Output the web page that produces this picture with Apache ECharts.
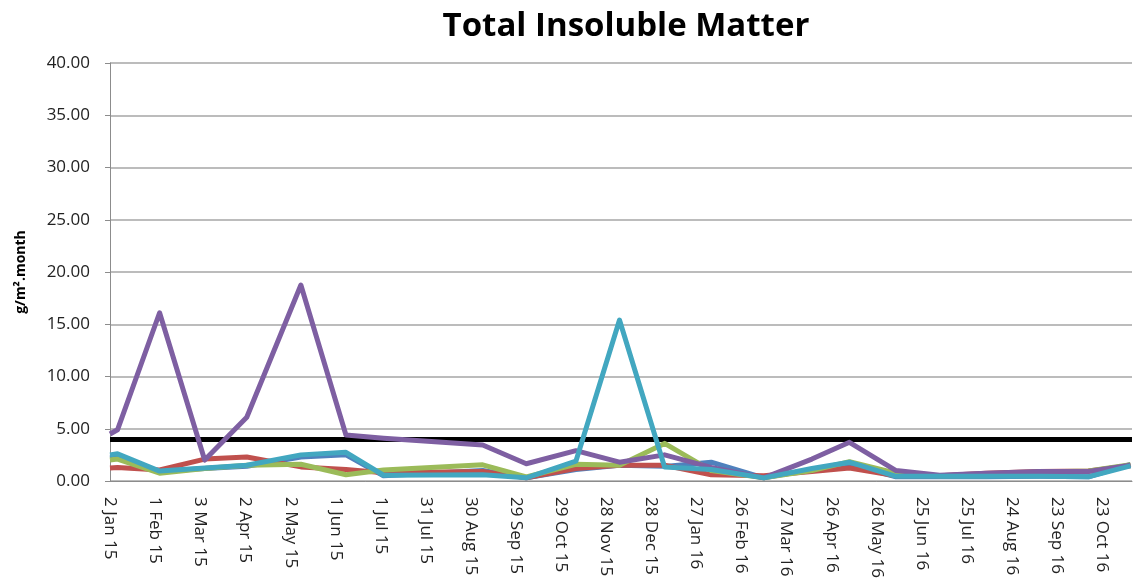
<!DOCTYPE html>
<html>
<head>
<meta charset="utf-8">
<script src="https://cdn.jsdelivr.net/npm/echarts@6/dist/echarts.min.js"></script>
<style>
html,body{margin:0;padding:0;background:#fff;}
#chart{width:1138px;height:587px;}
</style>
</head>
<body>
<div id="chart"></div>
<script>
// ---- data ----
const sampleDates = ["2015-01-02","2015-01-07","2015-02-04","2015-03-06","2015-04-03","2015-05-09","2015-06-08","2015-07-03","2015-09-07","2015-10-06","2015-11-08","2015-12-07","2016-01-06","2016-02-06","2016-03-12","2016-04-13","2016-05-08","2016-06-08","2016-07-07","2016-08-07","2016-09-11","2016-10-14","2016-11-11"];
const seriesBlue   = [2.2, 2.3, 0.9, 1.2, 1.4, 2.3, 2.5, 0.5, 1.0, 0.3, 1.1, 1.5, 1.4, 1.8, 0.3, 1.1, 1.6, 0.4, 0.4, 0.4, 0.45, 0.4, 1.6];
const seriesRed    = [1.25, 1.3, 1.05, 2.1, 2.3, 1.35, 1.1, 0.8, 0.9, 0.3, 1.2, 1.5, 1.5, 0.6, 0.5, 0.9, 1.25, 0.5, 0.5, 0.75, 0.9, 0.95, 1.45];
const seriesGreen  = [2.0, 2.1, 0.75, 1.2, 1.5, 1.6, 0.6, 1.05, 1.55, 0.4, 1.6, 1.5, 3.6, 1.0, 0.3, 1.0, 1.85, 0.75, 0.5, 0.5, 0.85, 0.95, 1.55];
const seriesPurple = [4.5, 4.9, 16.1, 2.0, 6.1, 18.75, 4.4, 4.1, 3.45, 1.65, 2.9, 1.8, 2.5, 1.3, 0.3, 2.1, 3.7, 1.0, 0.55, 0.75, 0.9, 0.9, 1.5];
const seriesTeal   = [2.5, 2.6, 0.95, 1.25, 1.5, 2.5, 2.75, 0.55, 0.6, 0.3, 1.9, 15.4, 1.35, 1.1, 0.3, 1.2, 1.8, 0.45, 0.45, 0.45, 0.45, 0.4, 1.45];
const threshold = 4.0;
const axisStart = "2015-01-02";
const axisEnd = "2016-11-12";
const tickDays = 30;
const yTicks = [0, 5, 10, 15, 20, 25, 30, 35, 40];
const MONTHS = ["Jan","Feb","Mar","Apr","May","Jun","Jul","Aug","Sep","Oct","Nov","Dec"];
const titleText = "Total Insoluble Matter";
const yName = "g/m\u00b2.month";

// ---- build ----
const DAY = 86400000;
const START = Date.parse(axisStart + "T00:00:00Z");
const toDay = s => Math.round((Date.parse(s + "T00:00:00Z") - START) / DAY);
const days = sampleDates.map(toDay);
const pairs = vals => vals.map((v, i) => [days[i], v]);
const fmtDate = v => {
  const d = new Date(START + v * DAY);
  return d.getUTCDate() + " " + MONTHS[d.getUTCMonth()] + " " + String(d.getUTCFullYear()).slice(2);
};

const FONT = "'Open Sans', 'Noto Sans', sans-serif";
const mk = (name, color, vals, z) => ({
  name, type: 'line', data: pairs(vals), symbol: 'none', z,
  lineStyle: { color, width: 5, join: 'round' }, itemStyle: { color },
  animation: false
});

const chart = echarts.init(document.getElementById('chart'));
chart.setOption({
  animation: false,
  title: {
    text: titleText, left: 621, top: 5, textAlign: 'center',
    textStyle: { fontFamily: FONT, fontWeight: 'bold', fontSize: 33, color: '#000' }
  },
  grid: { left: 110, right: 6, top: 63, bottom: 106, containLabel: false },
  xAxis: {
    type: 'value', min: 0, max: toDay(axisEnd), interval: tickDays,
    axisLine: { show: true, lineStyle: { color: '#8c8c8c', width: 1 } },
    axisTick: { show: false },
    splitLine: { show: false },
    axisLabel: {
      rotate: -90, margin: 16, fontFamily: FONT, fontSize: 17, color: '#222',
      showMaxLabel: false, formatter: fmtDate
    }
  },
  yAxis: {
    type: 'value', min: yTicks[0], max: yTicks[yTicks.length - 1], interval: yTicks[1] - yTicks[0],
    name: yName, nameLocation: 'middle', nameGap: 82, nameRotate: 90,
    nameTextStyle: { fontFamily: FONT, fontWeight: 'bold', fontSize: 14, color: '#000' },
    axisLine: { show: true, lineStyle: { color: '#8c8c8c', width: 1 } },
    axisTick: { show: true, length: 5, lineStyle: { color: '#8c8c8c' } },
    splitLine: { show: true, lineStyle: { color: '#a6a6a6', width: 1.5 } },
    axisLabel: { margin: 20, fontFamily: FONT, fontSize: 17, color: '#222', formatter: v => v.toFixed(2) }
  },
  series: [
    Object.assign(mk('Blue', '#4F81BD', seriesBlue, 2), {
      markLine: {
        silent: true, symbol: 'none', animation: false, z: 1,
        label: { show: false },
        lineStyle: { color: '#000', width: 5, type: 'solid' },
        data: [{ yAxis: threshold }]
      }
    }),
    mk('Red', '#C0504D', seriesRed, 3),
    mk('Green', '#9BBB59', seriesGreen, 4),
    mk('Purple', '#7E5FA2', seriesPurple, 5),
    mk('Teal', '#42A7C0', seriesTeal, 6)
  ]
});
</script>
</body>
</html>
